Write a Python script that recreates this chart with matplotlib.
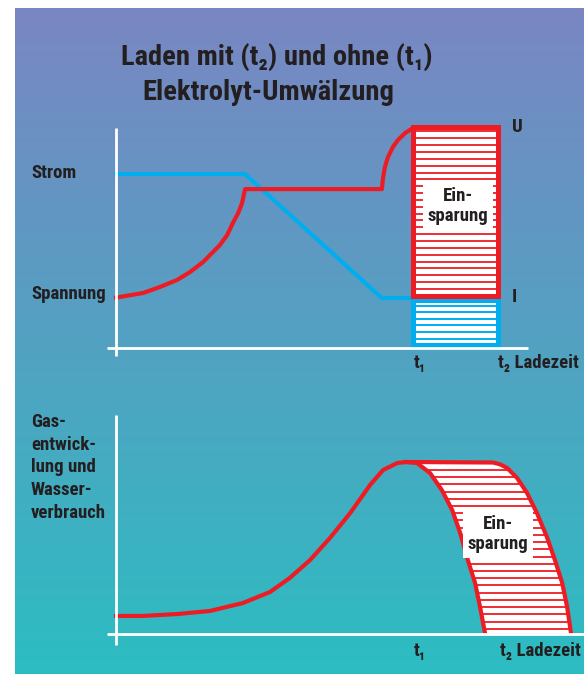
import numpy as np
import matplotlib
matplotlib.use("Agg")
import matplotlib.pyplot as plt
from matplotlib import font_manager
from matplotlib.patches import Rectangle

# schmale fette Schrift, wenn vorhanden
vorhanden = {f.name for f in font_manager.fontManager.ttflist}
schrift = 'DejaVu Sans'
for name in ['Roboto Condensed', 'Archivo Narrow', 'Liberation Sans Narrow']:
    if name in vorhanden:
        schrift = name
        break
plt.rcParams['font.family'] = [schrift, 'DejaVu Sans']
plt.rcParams['font.weight'] = 'bold'

# Farben
ROT = '#ed1c24'
BLAU = '#00aeef'
TEXT = '#231f20'
OBEN = np.array([122, 134, 195]) / 255
UNTEN = np.array([44, 189, 193]) / 255

# --- Daten oberes Diagramm (Zeit, Niveau) ---
strom_t = [0.0, 3.38, 6.96, 7.77]
strom_v = [7.87, 7.87, 2.26, 2.26]
spannung_t = [0.0, 0.71, 1.15, 1.60, 1.94, 2.28, 2.72, 2.91, 3.06, 3.20, 3.30, 3.38,
              6.96, 6.99, 7.04, 7.12, 7.25, 7.38, 7.57, 7.77, 8.09]
spannung_v = [2.28, 2.49, 2.76, 3.08, 3.44, 3.89, 4.66, 5.11, 5.66, 6.11, 6.56, 7.19,
              7.19, 7.69, 8.19, 8.64, 9.10, 9.41, 9.73, 9.95, 10.0]
t1_oben = 7.77
t2_oben = 10.0
niveau_I = 2.26
niveau_U = 10.0

# --- Daten unteres Diagramm ---
gas_t = [0.0, 0.71, 1.60, 2.46, 3.32, 4.03, 4.55, 5.08, 5.60, 6.13, 6.65, 6.99, 7.36, 7.60]
gas_v = [1.05, 1.05, 1.16, 1.34, 1.80, 2.44, 3.26, 4.30, 5.58, 7.03, 8.66, 9.53, 9.94, 10.0]
ohne_t = [7.60, 7.88, 8.22, 8.53, 8.80, 9.01, 9.21, 9.40, 9.53, 9.66]
ohne_v = [10.0, 9.94, 9.36, 8.37, 7.21, 5.87, 4.30, 2.97, 1.57, 0.06]
mit_t = [7.60, 9.87, 10.06, 10.24, 10.50, 10.76, 11.02, 11.28, 11.49, 11.68, 11.81, 11.91]
mit_v = [10.0, 9.97, 9.86, 9.65, 9.07, 8.20, 7.03, 5.64, 4.30, 2.97, 1.57, 0.06]

W, H = 584, 674
fig = plt.figure(figsize=(W / 100, H / 100), dpi=100)
fig.patch.set_facecolor('white')

# Hintergrund mit Farbverlauf
bg = fig.add_axes([15 / W, 0, (W - 15) / W, (H - 8) / H])
s = np.linspace(0, 1, 256)[:, None]
grad = OBEN[None, None, :] * (1 - s[:, :, None]) + UNTEN[None, None, :] * s[:, :, None]
bg.imshow(grad, aspect='auto', extent=[0, 1, 0, 1])
bg.axis('off')


def achse(x0, x1, y0, y1, xnull, xs, ynull, ys):
    # Achsen in Pixelbox, Daten: x=(px-xnull)/xs, y=(ynull-py)/ys
    ax = fig.add_axes([x0 / W, 1 - y1 / H, (x1 - x0) / W, (y1 - y0) / H])
    ax.set_xlim((x0 - xnull) / xs, (x1 - xnull) / xs)
    ax.set_ylim((ynull - y1) / ys, (ynull - y0) / ys)
    ax.axis('off')
    return ax


def text(x, y, s, **kw):
    # Text in Pixelkoordinaten der Figur
    kw.setdefault('fontsize', 13.5)
    kw.setdefault('color', TEXT)
    fig.text(x / W, 1 - y / H, s, **kw)


# ---------- oberes Diagramm ----------
ax1 = achse(20, 584, 110, 380, 116, 38.2, 348, 22.1)
ax1.plot([0, 0], [-0.36, 9.95], color='white', lw=2.0, zorder=10, solid_capstyle='butt')
ax1.plot([-0.24, 10.79], [0, 0], color='white', lw=2.0, zorder=10, solid_capstyle='butt')

ax1.plot(strom_t, strom_v, color=BLAU, lw=3.0, zorder=3, solid_joinstyle='miter')
ax1.plot(spannung_t, spannung_v, color=ROT, lw=3.0, zorder=4, solid_joinstyle='round')

rand = 0.11
# blaues Feld
blau = Rectangle((t1_oben, 0.12), t2_oben - t1_oben, niveau_I - rand - 0.12,
                 facecolor='white', edgecolor='none', zorder=5)
ax1.add_patch(blau)
hl = ax1.hlines(np.arange(0.12 + 0.3, niveau_I - rand, 0.3), t1_oben, t2_oben,
                color=BLAU, lw=1.4, zorder=6)
hl.set_clip_path(blau)
ax1.add_patch(Rectangle((t1_oben, 0.12), t2_oben - t1_oben, niveau_I - rand - 0.12,
                        facecolor='none', edgecolor=BLAU, lw=3.6, zorder=7))
# rotes Feld
rot = Rectangle((t1_oben, niveau_I + rand), t2_oben - t1_oben, niveau_U - niveau_I - rand,
                facecolor='white', edgecolor='none', zorder=5)
ax1.add_patch(rot)
hl = ax1.hlines(np.arange(niveau_I + rand + 0.3, niveau_U, 0.31), t1_oben, t2_oben,
                color=ROT, lw=1.3, zorder=6)
hl.set_clip_path(rot)
ax1.add_patch(Rectangle((t1_oben, niveau_I + rand), t2_oben - t1_oben, niveau_U - niveau_I - rand,
                        facecolor='none', edgecolor=ROT, lw=3.6, zorder=7))

# ---------- unteres Diagramm ----------
ax2 = achse(20, 584, 400, 670, 116, 38.2, 634, 17.2)
ax2.plot([0, 0], [-0.64, 12.73], color='white', lw=2.0, zorder=10, solid_capstyle='butt')
ax2.plot([-0.24, 12.26], [0, 0], color='white', lw=2.0, zorder=10, solid_capstyle='butt')

flaeche_t = mit_t + ohne_t[::-1]
flaeche_v = mit_v + ohne_v[::-1]
poly = ax2.fill(flaeche_t, flaeche_v, color='white', zorder=2)[0]
hl = ax2.hlines(np.arange(0.3, 10.0, 0.42), 7.4, 12.0, color=ROT, lw=1.3, zorder=3)
hl.set_clip_path(poly)
ax2.plot(gas_t + ohne_t[1:], gas_v + ohne_v[1:], color=ROT, lw=3.0, zorder=4,
         solid_joinstyle='round')
ax2.plot(mit_t, mit_v, color=ROT, lw=3.0, zorder=4, solid_joinstyle='round')

# ---------- Texte ----------
box = dict(boxstyle='square,pad=0.25', facecolor='white', edgecolor='none')
text(458, 206, 'Ein-\nsparung', ha='center', va='center', linespacing=1.15, bbox=box, zorder=8)
text(498, 534, 'Ein-\nsparung', ha='center', va='center', linespacing=1.15, bbox=box, zorder=8)

text(277, 65, 'Laden mit (t₂) und ohne (t₁)', ha='center', va='baseline', fontsize=20.5)
text(268, 100, 'Elektrolyt-Umwälzung', ha='center', va='baseline', fontsize=20.5)
text(31, 178, 'Strom', ha='left', va='baseline')
text(31, 299, 'Spannung', ha='left', va='baseline')
gas_zeilen = ['Gas-', 'entwick-', 'lung und', 'Wasser-', 'verbrauch']
for i, zeile in enumerate(gas_zeilen):
    text(31, 427 + i * 22.7, zeile, ha='left', va='baseline')

text(512, 132, 'U', ha='left', va='baseline')
text(512, 302, 'I', ha='left', va='baseline')
text(414, 368, 't₁', ha='left', va='baseline')
text(498, 368, 't₂ Ladezeit', ha='left', va='baseline')
text(414, 656, 't₁', ha='left', va='baseline')
text(500, 656, 't₂ Ladezeit', ha='left', va='baseline')

fig.savefig('out.png', dpi=100)
